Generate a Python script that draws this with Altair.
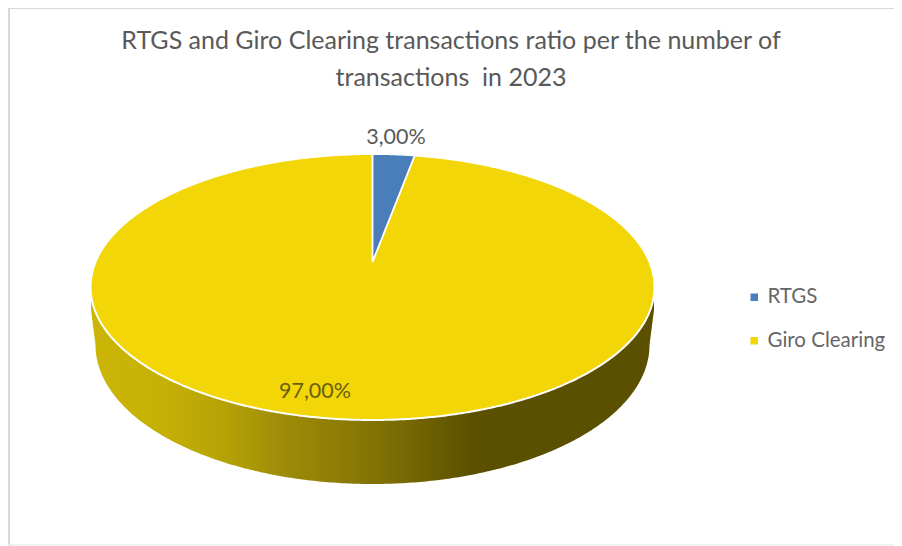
import altair as alt
import numpy as np
import pandas as pd

categories = ["RTGS", "Giro Clearing"]
shares = [3.00, 97.00]
slice_colors = ["#4a7ebb", "#f2d607"]
title_lines = ["RTGS and Giro Clearing transactions ratio per the number of",
               "transactions\u00a0 in 2023"]

W, H = 886, 538
X0, Y0 = 8, 8
xs = alt.X("x:Q", scale=alt.Scale(domain=[X0, X0 + W], nice=False, zero=False), axis=None)
ys = alt.Y("y:Q", scale=alt.Scale(domain=[Y0 + H, Y0], nice=False, zero=False), axis=None)
y2s = alt.Y2("y2:Q")

# Projected disc: the pie is tilted, so the visual centre of the top face sits
# below the point where the slices meet.
cx, cy, rx, ry = 372.5, 287.0, 282.0, 133.0
apex_y = 262.0
bx, by, brx, bry = 372.5, 345.0, 277.0, 139.0
PERSPECTIVE = 0.80


def top_y(x, sign):
    t = np.clip((x - cx) / rx, -1, 1)
    return cy + sign * ry * np.sqrt(1 - t ** 2)


px = cx - rx * np.cos(np.linspace(0, np.pi, 400))
top = pd.DataFrame({"x": px, "y": top_y(px, -1), "y2": top_y(px, 1),
                    "Series": categories[1]})

# side wall
bt = np.linspace(0, np.pi, 300)
bxs = bx - brx * np.cos(bt)
bys = by + bry * np.sin(bt)
side_x = np.concatenate([[cx - rx + 0.5], bxs, [cx + rx - 0.5]])
side_y = np.concatenate([[310.0], bys, [310.0]])
side = pd.DataFrame({"x": side_x, "y": side_y, "y2": top_y(side_x, 1)})

# RTGS slice, its angle taken from its share
theta = 2 * np.pi * shares[0] / sum(shares)
edge_x = cx + PERSPECTIVE * rx * np.sin(theta)
wx = np.linspace(cx, edge_x, 30)
wedge = pd.DataFrame({"x": wx, "y": top_y(wx, -1),
                      "y2": apex_y + (wx - cx) / (edge_x - cx) * (top_y(edge_x, -1) - apex_y),
                      "Series": categories[0]})

color = alt.Color("Series:N",
                  scale=alt.Scale(domain=categories, range=slice_colors),
                  legend=alt.Legend(title=None, orient="none", legendX=736, legendY=279,
                                    symbolType="square", symbolSize=56, symbolStrokeWidth=0,
                                    labelFontSize=20.5, labelFont="Lato", labelColor="#666666",
                                    rowPadding=22.5, labelOffset=3, padding=0))

side_fill = alt.LinearGradient(
    gradient="linear", x1=0, x2=1, y1=0, y2=0,
    stops=[alt.GradientStop(offset=0, color="#cbb606"),
           alt.GradientStop(offset=0.14, color="#c4af05"),
           alt.GradientStop(offset=0.24, color="#b5a205"),
           alt.GradientStop(offset=0.33, color="#a08e08"),
           alt.GradientStop(offset=0.52, color="#7f7004"),
           alt.GradientStop(offset=0.68, color="#5b4f00"),
           alt.GradientStop(offset=1, color="#5b4f00")])

side_layer = alt.Chart(side).mark_area(color=side_fill, interpolate="linear").encode(x=xs, y=ys, y2=y2s)
top_layer = alt.Chart(top).mark_area(stroke="white", strokeWidth=2).encode(x=xs, y=ys, y2=y2s, color=color)
wedge_layer = alt.Chart(wedge).mark_area(stroke="white", strokeWidth=1.8).encode(x=xs, y=ys, y2=y2s, color=color)

labels = pd.DataFrame({
    "x": [396.0, 315.0],
    "y": [138.0, 392.0],
    "label": [f"{v:.2f}%".replace(".", ",") for v in shares],
    "ink": ["#595959", "#6a5f10"],
})
label_layer = alt.Chart(labels).mark_text(font="Lato", fontSize=21.5).encode(
    x=xs, y=ys, text="label:N", color=alt.Color("ink:N", scale=None))

frame_color = "#d9d9d9"
frame_left = alt.Chart(pd.DataFrame({"a": [0]})).mark_rule(color=frame_color, strokeWidth=2).encode(
    x=alt.value(1), y=alt.value(0), y2=alt.value(H))
frame_top = alt.Chart(pd.DataFrame({"a": [0]})).mark_rule(color=frame_color, strokeWidth=2).encode(
    x=alt.value(0), x2=alt.value(W), y=alt.value(0))
frame_bottom = alt.Chart(pd.DataFrame({"a": [0]})).mark_rule(color="#eeeeee", strokeWidth=1.5).encode(
    x=alt.value(0), x2=alt.value(W), y=alt.value(H - 1))

chart = alt.layer(frame_left, frame_top, frame_bottom, side_layer, top_layer, wedge_layer, label_layer).properties(
    width=W, height=H, padding=0,
    autosize=alt.AutoSizeParams(type="none"),
    title=alt.TitleParams(text=title_lines, font="Lato", fontSize=25, fontWeight="normal",
                          color="#595959", anchor="middle", offset=-84, dx=0, lineHeight=37),
).configure_view(stroke=None).resolve_scale(color="shared")

chart.save("out.html", embed_options={"renderer": "svg", "actions": False})
